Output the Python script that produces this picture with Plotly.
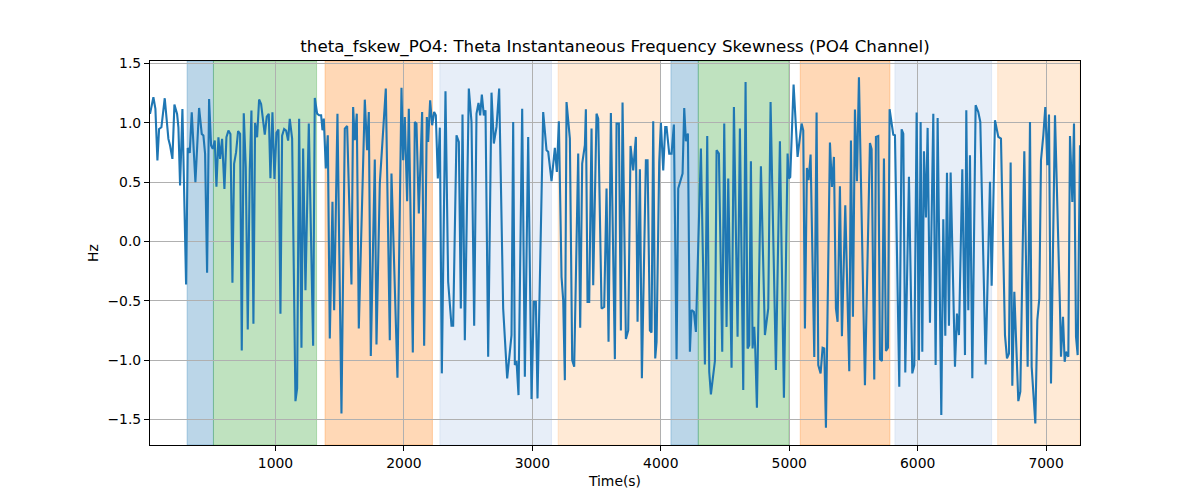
import plotly.graph_objects as go

# ---- data (time in seconds, value in Hz) ----
time_s = [
    23, 49.5, 65.1, 80.7, 93.7, 111.8, 137.8, 166.3, 179.3, 197.5, 213.1, 233.9, 244.2, 257.2, 275.4,
    303.9, 316.9, 332.5, 348.1, 376.6, 405.2, 425.9, 438.9, 451.9, 467.5, 483.1, 498.6, 511.6, 527.2,
    540.2, 555.8, 568.7, 584.3, 602.5, 618.1, 633.6, 649.2, 664.8, 677.8, 693.3, 708.9, 724.5, 737.5,
    753.1, 768.6, 784.2, 799.8, 812.8, 828.3, 841.3, 856.9, 872.5, 888.0, 903.6, 916.6, 932.2, 947.8,
    960.7, 976.3, 991.9, 1007.5, 1023.0, 1038.6, 1051.6, 1067.2, 1082.7, 1098.3, 1111.3,
    1129.6, 1155.5, 1168.5, 1184.1, 1202.3, 1215.2, 1233.4, 1259.4, 1293.1, 1306.1, 1324.3, 1339.8,
    1355.4, 1365.8, 1376.2, 1391.8, 1407.3, 1422.9, 1443.7, 1456.7, 1482.6,
    1513.7, 1539.7, 1557.9, 1591.6, 1604.6, 1617.6, 1633.1, 1648.7, 1695.4, 1713.6, 1726.6, 1742.2,
    1773.3, 1786.3, 1812.3, 1859.0, 1890.1, 1903.1, 1949.8, 1981.0, 1994.0, 2007.0, 2025.1, 2038.1,
    2069.3, 2084.8, 2097.8, 2116.0, 2141.9, 2157.5, 2178.3, 2188.7, 2204.2, 2219.8, 2235.4,
    2248.4, 2264.0, 2279.6, 2295.2, 2323.7, 2344.5, 2370.4, 2383.4, 2409.4, 2427.6, 2443.1, 2456.1,
    2474.3, 2505.4, 2526.2, 2547.0, 2565.1, 2580.7, 2593.7, 2606.7, 2622.3, 2635.2, 2656.0, 2682.0,
    2700.1, 2720.9, 2741.7, 2772.8, 2804.0, 2837.7, 2850.7, 2863.7, 2876.7, 2892.2, 2920.8, 2941.6,
    2967.5,
    2993.5, 3011.7, 3027.3, 3040.2, 3084.4, 3110.3, 3123.3, 3149.3, 3175.2, 3190.8, 3206.4, 3227.2,
    3240.1, 3253.1, 3266.1, 3292.1, 3310.2, 3325.8, 3357.0, 3372.5, 3388.1, 3408.9, 3416.7, 3429.6,
    3442.6, 3460.8, 3473.8, 3499.7, 3512.7, 3538.7, 3559.4, 3577.6, 3593.2, 3611.4, 3642.5, 3655.5,
    3673.7, 3689.2, 3702.2,
    3728.2, 3746.4, 3764.6, 3785.3, 3806.1, 3819.1, 3837.3, 3852.8, 3884.0, 3897.0, 3915.1, 3928.1,
    3941.1, 3956.7, 3967.1, 3987.8, 4000.8, 4019.0, 4034.6, 4044.9, 4065.7, 4083.9, 4102.0, 4122.8,
    4135.8, 4169.5, 4182.5, 4195.5, 4211.1, 4226.6, 4239.6, 4257.8, 4273.4, 4312.3, 4343.5, 4361.6,
    4377.2, 4390.2, 4421.4, 4434.3,
    4452.5, 4478.4, 4494.0, 4512.2, 4525.1, 4551.1, 4569.3, 4597.8, 4616.0, 4642.0, 4660.1, 4675.7,
    4688.7, 4701.7, 4714.7, 4727.6, 4735.4, 4748.4, 4779.6, 4810.7, 4836.7, 4854.8, 4896.4, 4927.5,
    4958.7, 4987.2, 4997.6, 5008.0, 5034.0, 5065.1, 5096.3, 5109.2, 5122.2, 5137.8, 5150.8, 5166.4,
    5195.0, 5213.1, 5226.1, 5244.3, 5259.8, 5272.8, 5285.8, 5317.0, 5332.5, 5348.1, 5363.7, 5376.7,
    5394.8, 5410.4, 5436.4, 5467.5, 5480.5, 5496.1, 5511.7, 5527.2, 5542.8, 5589.5, 5628.5, 5641.5,
    5662.2, 5675.2, 5693.4, 5706.4, 5721.9, 5737.5, 5753.1, 5768.7, 5781.6, 5810.2, 5823.2, 5856.9,
    5875.1, 5888.1, 5903.6, 5932.2,
    5958.2, 5973.8, 5992.0, 6010.1, 6023.1, 6036.1, 6049.1, 6064.6, 6077.6, 6095.8, 6121.8, 6139.9,
    6155.5, 6184.1, 6199.6, 6215.2, 6228.2, 6243.8, 6256.7, 6290.5, 6306.1, 6321.6, 6347.6, 6368.4,
    6378.7, 6394.3, 6407.3, 6425.5, 6451.4, 6472.2, 6487.8, 6529.3, 6563.1, 6576.1, 6602.0, 6628.0,
    6648.7,
    6679.9, 6695.5, 6711.0, 6724.0, 6737.0, 6752.6, 6783.7, 6799.3, 6830.4, 6856.4, 6874.6, 6887.6,
    6916.1, 6931.7, 6947.3, 6960.2, 6978.4, 6994.0, 7009.6, 7022.6, 7038.1, 7069.3, 7108.2, 7116.0,
    7131.6, 7144.6, 7155.0, 7173.1, 7186.1, 7204.3, 7217.3, 7232.9, 7245.8, 7264,
]

theta_fskew = [
    1.076, 1.216, 1.118, 0.683, 0.949, 0.963, 1.208, 0.865, 0.809, 0.697, 1.154, 1.076, 0.963, 0.472, 1.118,
    -0.362, 0.789, 0.747, 1.090, 0.500, 1.126, 0.907, 0.893, 0.739, -0.264, 1.202, 0.809, 0.781, 0.851,
    0.463, 0.879, 0.697, 0.865, 0.444, 0.879, 0.935, 0.907, -0.348, 0.654, 0.753, 0.930, 0.907, -0.919,
    1.081, 0.626, -0.742, 0.604, 1.104, -0.694, 1.000, 0.879, 1.197, 1.160, 0.992, 0.902, 1.053, 1.076,
    0.534, 1.090, 0.528, 0.916, 0.944, -0.610, 0.893, 0.949, 0.935, 0.851, 1.034,
    0.868, -1.346, -1.239, 1.036, -0.896, 0.784, -0.411, 0.994, -0.879, 1.210, 1.078, 1.064,
    1.064, 0.938, 1.036, 0.615, 0.896, -0.818, 0.334, -0.579, 1.078,
    -1.450, 0.952, 0.974, -0.362, 1.134, 0.854, 1.078, -0.733, 1.196, 0.770, 1.092, -0.966,
    0.691, -0.868, 0.489, 1.289, -0.832, 0.573, -1.149, 1.297, 0.685, 1.050, 0.340, 1.120,
    -0.936, 1.008, 0.994, 0.236, 1.092, -0.879, 1.050, 0.840, 1.191, 0.980, 1.092,
    1.064, 0.531, 0.960, -1.112, 1.267, -0.340, -0.711, -0.711, 0.896, 0.840, -0.565, 1.070,
    -0.832, 1.289, 1.008, -0.711, 1.078, 1.168, 1.064, 1.238, 1.064, 1.106, -0.972, 1.255,
    0.826, 0.966, 1.289, -0.565, -1.154, -0.789, 1.008, -1.042, -1.008, -1.295, 1.120, -1.140,
    0.882,
    -1.329, -0.509, -0.509, -1.323, 1.092, 0.770, 0.756, 0.508, 0.789, 0.587, 1.014, -0.298,
    -0.494, -1.169, 1.176, 0.868, -1.000, -1.056, 0.741, -0.728, 0.657, 0.812, 1.115, -0.509,
    -0.509, 0.952, -0.368, 1.078, 1.036, -0.565, -0.551, 0.447, -0.846, 1.084, -0.992, 0.994,
    0.994, -0.750, 1.171,
    -0.823, -0.750, 0.806, 0.600, 0.882, -0.677, 0.609, -1.154, 0.685, 0.685, -0.750, -0.767,
    1.014, -0.986, -0.846, 0.671, 1.000, 0.600, 0.966, 0.966, 0.741, 0.741, 0.986, -0.992,
    0.447, 0.573, 1.126, 0.845, 0.910, -0.930, -0.579, -0.593, -0.762, 0.784, -1.037, 0.890,
    -1.098, -1.289, -1.008, 0.770,
    0.741, -0.930, 0.994, -0.720, 0.531, -1.065, 1.134, -0.803, 0.952, -1.253, 1.345, -0.902,
    -0.874, 0.677, -0.902, -0.720, -0.902, -1.402, 0.634, -0.789, -0.565, 1.176, -1.084, 0.845,
    -1.318, 0.741, 0.531, 0.544, 1.323, 0.713, 0.994, 0.938, -0.733, 0.620, 0.517, 0.733,
    -0.974, 1.087, -1.042, -1.112, -0.896, -0.902, -1.570, 0.834, 0.461, 0.713, -0.565, -0.677,
    0.466, -0.798, 0.306, -1.093, 0.851, -0.635, 1.112, 0.508, 1.385, -1.211, 0.831, 0.778,
    -1.163, 0.882, 0.890, -0.992, -1.008, 0.699, -0.924, -0.896, 1.115, 0.901, 0.896, -1.225,
    0.946, 0.910, -1.104, 0.545,
    -1.112, -1.042, 1.087, -1.000, 1.008, -0.930, 0.761, 0.202, 0.958, -0.686, 1.078, -1.042,
    1.042, -1.464, 0.188, -0.795, 0.579, -0.711, 0.581, -1.056, -0.607, -0.789, 0.609, -0.958,
    1.106, -0.579, 0.727, -1.154, 1.149, 1.092, 1.008, -1.037, 0.503, -0.374, 1.022, 0.882,
    0.868,
    -0.789, -0.986, -0.944, 0.666, -1.216, -0.424, -1.346, -1.267, 0.761, -1.056, 1.008, -1.056,
    -1.534, -0.663, -0.480, 0.685, 0.896, 1.134, 0.643, 1.070, -1.197, 1.064, -0.565, -0.972,
    -0.635, -1.014, -0.930, -0.972, 0.890, 0.334, 0.994, -0.803, -0.958, 0.812,
]

# shaded segments: (start, end, colour)
seg_start = [312, 517, 1386, 2280, 3201, 4079, 4292, 5086, 5823, 6623]
seg_end = [517, 1320, 2222, 3149, 3998, 4292, 4998, 5784, 6576, 7264]
seg_color = ["#1f77b4", "#2ca02c", "#ff7f0e", "#aec7e8", "#ffbb78",
             "#1f77b4", "#2ca02c", "#ff7f0e", "#aec7e8", "#ffbb78"]

x_ticks = [1000, 2000, 3000, 4000, 5000, 6000, 7000]
y_ticks = [-1.5, -1.0, -0.5, 0.0, 0.5, 1.0, 1.5]
y_ticktext = ["\u22121.5", "\u22121.0", "\u22120.5", "0.0", "0.5", "1.0", "1.5"]


def rgba(hex_color, a):
    h = hex_color.lstrip("#")
    r, g, b = int(h[0:2], 16), int(h[2:4], 16), int(h[4:6], 16)
    return f"rgba({r},{g},{b},{a})"


fig = go.Figure()
fig.add_trace(go.Scatter(x=time_s, y=theta_fskew, mode="lines",
                         line=dict(color="#1f77b4", width=2.1), showlegend=False))

for s, e, c in zip(seg_start, seg_end, seg_color):
    fig.add_shape(type="rect", xref="x", yref="paper", x0=s, x1=e, y0=0, y1=1,
                  fillcolor=rgba(c, 0.3), line=dict(color=rgba(c, 0.3), width=1),
                  layer="below")

font_family = "DejaVu Sans"
fig.update_layout(
    width=1200, height=500,
    margin=dict(l=142, r=128, t=53, b=63),
    paper_bgcolor="white", plot_bgcolor="white",
    font=dict(family=font_family, size=13.9, color="black"),
    title=dict(text="theta_fskew_PO4: Theta Instantaneous Frequency Skewness (PO4 Channel)",
               x=0.5, xref="paper", xanchor="center", y=0.924, yanchor="middle",
               font=dict(family=font_family, size=16.7, color="black")),
    showlegend=False,
)
fig.update_xaxes(range=[23, 7264], tickvals=x_ticks, showgrid=True, gridcolor="#b0b0b0",
                 gridwidth=1.1, showline=True, linecolor="black", linewidth=1.1, mirror=True,
                 ticks="outside", ticklen=5, tickwidth=1.1, tickcolor="black", zeroline=False,
                 title=dict(text="Time(s)", standoff=6, font=dict(size=13.9)))
fig.update_yaxes(range=[-1.716, 1.522], tickvals=y_ticks, ticktext=y_ticktext, showgrid=True,
                 gridcolor="#b0b0b0", gridwidth=1.1, showline=True, linecolor="black",
                 linewidth=1.1, mirror=True, ticks="outside", ticklen=5, tickwidth=1.1,
                 tickcolor="black", zeroline=False,
                 title=dict(text="Hz", standoff=5, font=dict(size=13.9)))

fig.write_html("out.html")
